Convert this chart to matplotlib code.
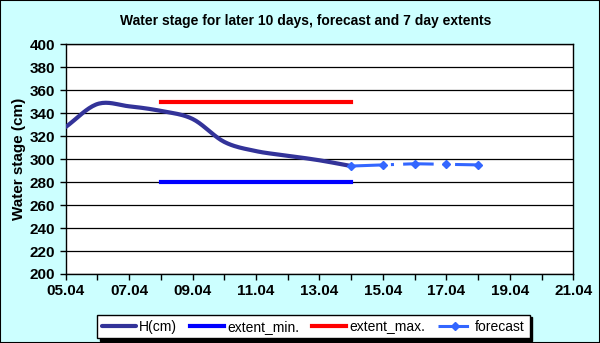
import numpy as np
import matplotlib
matplotlib.use("Agg")
from matplotlib import pyplot as plt
from matplotlib.patches import Rectangle

plt.rcParams['font.family'] = ['Liberation Sans', 'DejaVu Sans']

# days of April
h_days = [5, 6, 7, 8, 9, 10, 11, 12, 13, 14]
h_vals = [328, 348, 346, 342, 335, 315, 307, 303, 299, 294]

ext_days = [8, 14]
ext_min = [280, 280]
ext_max = [350, 350]

fc_days = [14, 15, 16, 17, 18]
fc_vals = [294, 295, 296, 295.5, 295]

xticks = [5, 7, 9, 11, 13, 15, 17, 19, 21]
xlabels = ['05.04', '07.04', '09.04', '11.04', '13.04', '15.04', '17.04', '19.04', '21.04']


def smooth(x, y, n=20):
    # catmull-rom style smoothing like the excel "smoothed line"
    x = np.asarray(x, float)
    y = np.asarray(y, float)
    px = np.concatenate([[2*x[0]-x[1]], x, [2*x[-1]-x[-2]]])
    py = np.concatenate([[2*y[0]-y[1]], y, [2*y[-1]-y[-2]]])
    xs, ys = [], []
    t = np.linspace(0, 1, n)
    for i in range(1, len(px)-2):
        for p, out in ((px, xs), (py, ys)):
            p0, p1, p2, p3 = p[i-1], p[i], p[i+1], p[i+2]
            out.extend(0.5*((2*p1) + (-p0+p2)*t + (2*p0-5*p1+4*p2-p3)*t**2
                            + (-p0+3*p1-3*p2+p3)*t**3))
    return xs, ys


bg = '#CCFFFF'
fig = plt.figure(figsize=(6, 3.43), dpi=100, facecolor=bg)
ax = fig.add_axes([0.1095, 0.2012, 0.846, 0.6696])
ax.set_facecolor('white')

sx, sy = smooth(h_days, h_vals)
ax.plot(sx, sy, color='#333399', lw=3, label='H(cm)', solid_capstyle='round', zorder=3)
ax.plot(ext_days, ext_min, color='#0000FF', lw=3, label='extent_min.', zorder=3)
ax.plot(ext_days, ext_max, color='#FF0000', lw=3, label='extent_max.', zorder=3)
ax.plot(fc_days, fc_vals, color='#3366FF', lw=2.2, dashes=(10, 3, 1, 3),
        marker='D', ms=4, label='forecast', zorder=4)

ax.set_xlim(5, 21)
ax.set_ylim(200, 400)
ax.set_yticks(np.arange(200, 401, 20))
ax.set_xticks(xticks)
ax.set_xticklabels(xlabels)
ax.set_xticks(np.arange(5, 22, 1), minor=True)
ax.grid(axis='y', color='black', lw=0.9)
ax.set_axisbelow(True)
for s in ax.spines.values():
    s.set_color('black')
    s.set_linewidth(1)
ax.tick_params(axis='both', which='both', direction='out', color='black', length=4, width=1)
ax.tick_params(axis='both', labelsize=11)
for lbl in ax.get_xticklabels() + ax.get_yticklabels():
    lbl.set_fontweight('bold')

ax.set_ylabel('Water stage (cm)', fontsize=11, fontweight='bold', labelpad=3)
fig.text(0.51, 0.94, 'Water stage for later 10 days, forecast and 7 day extents',
         ha='center', va='center', fontsize=10, fontweight='bold')

leg = fig.legend(loc='center', bbox_to_anchor=(0.522, 0.048), ncol=4, fontsize=10,
                 frameon=True, fancybox=False, edgecolor='black', framealpha=1,
                 handlelength=2.5, columnspacing=0.9, handletextpad=0.2,
                 borderpad=0.35, shadow={'color': 'black', 'alpha': 1})
leg.get_frame().set_linewidth(1)

fig.patches.append(Rectangle((0, 0), 1, 1, transform=fig.transFigure, fill=False,
                             edgecolor='black', lw=1.5))

fig.savefig('out.png', dpi=100, facecolor=bg)
